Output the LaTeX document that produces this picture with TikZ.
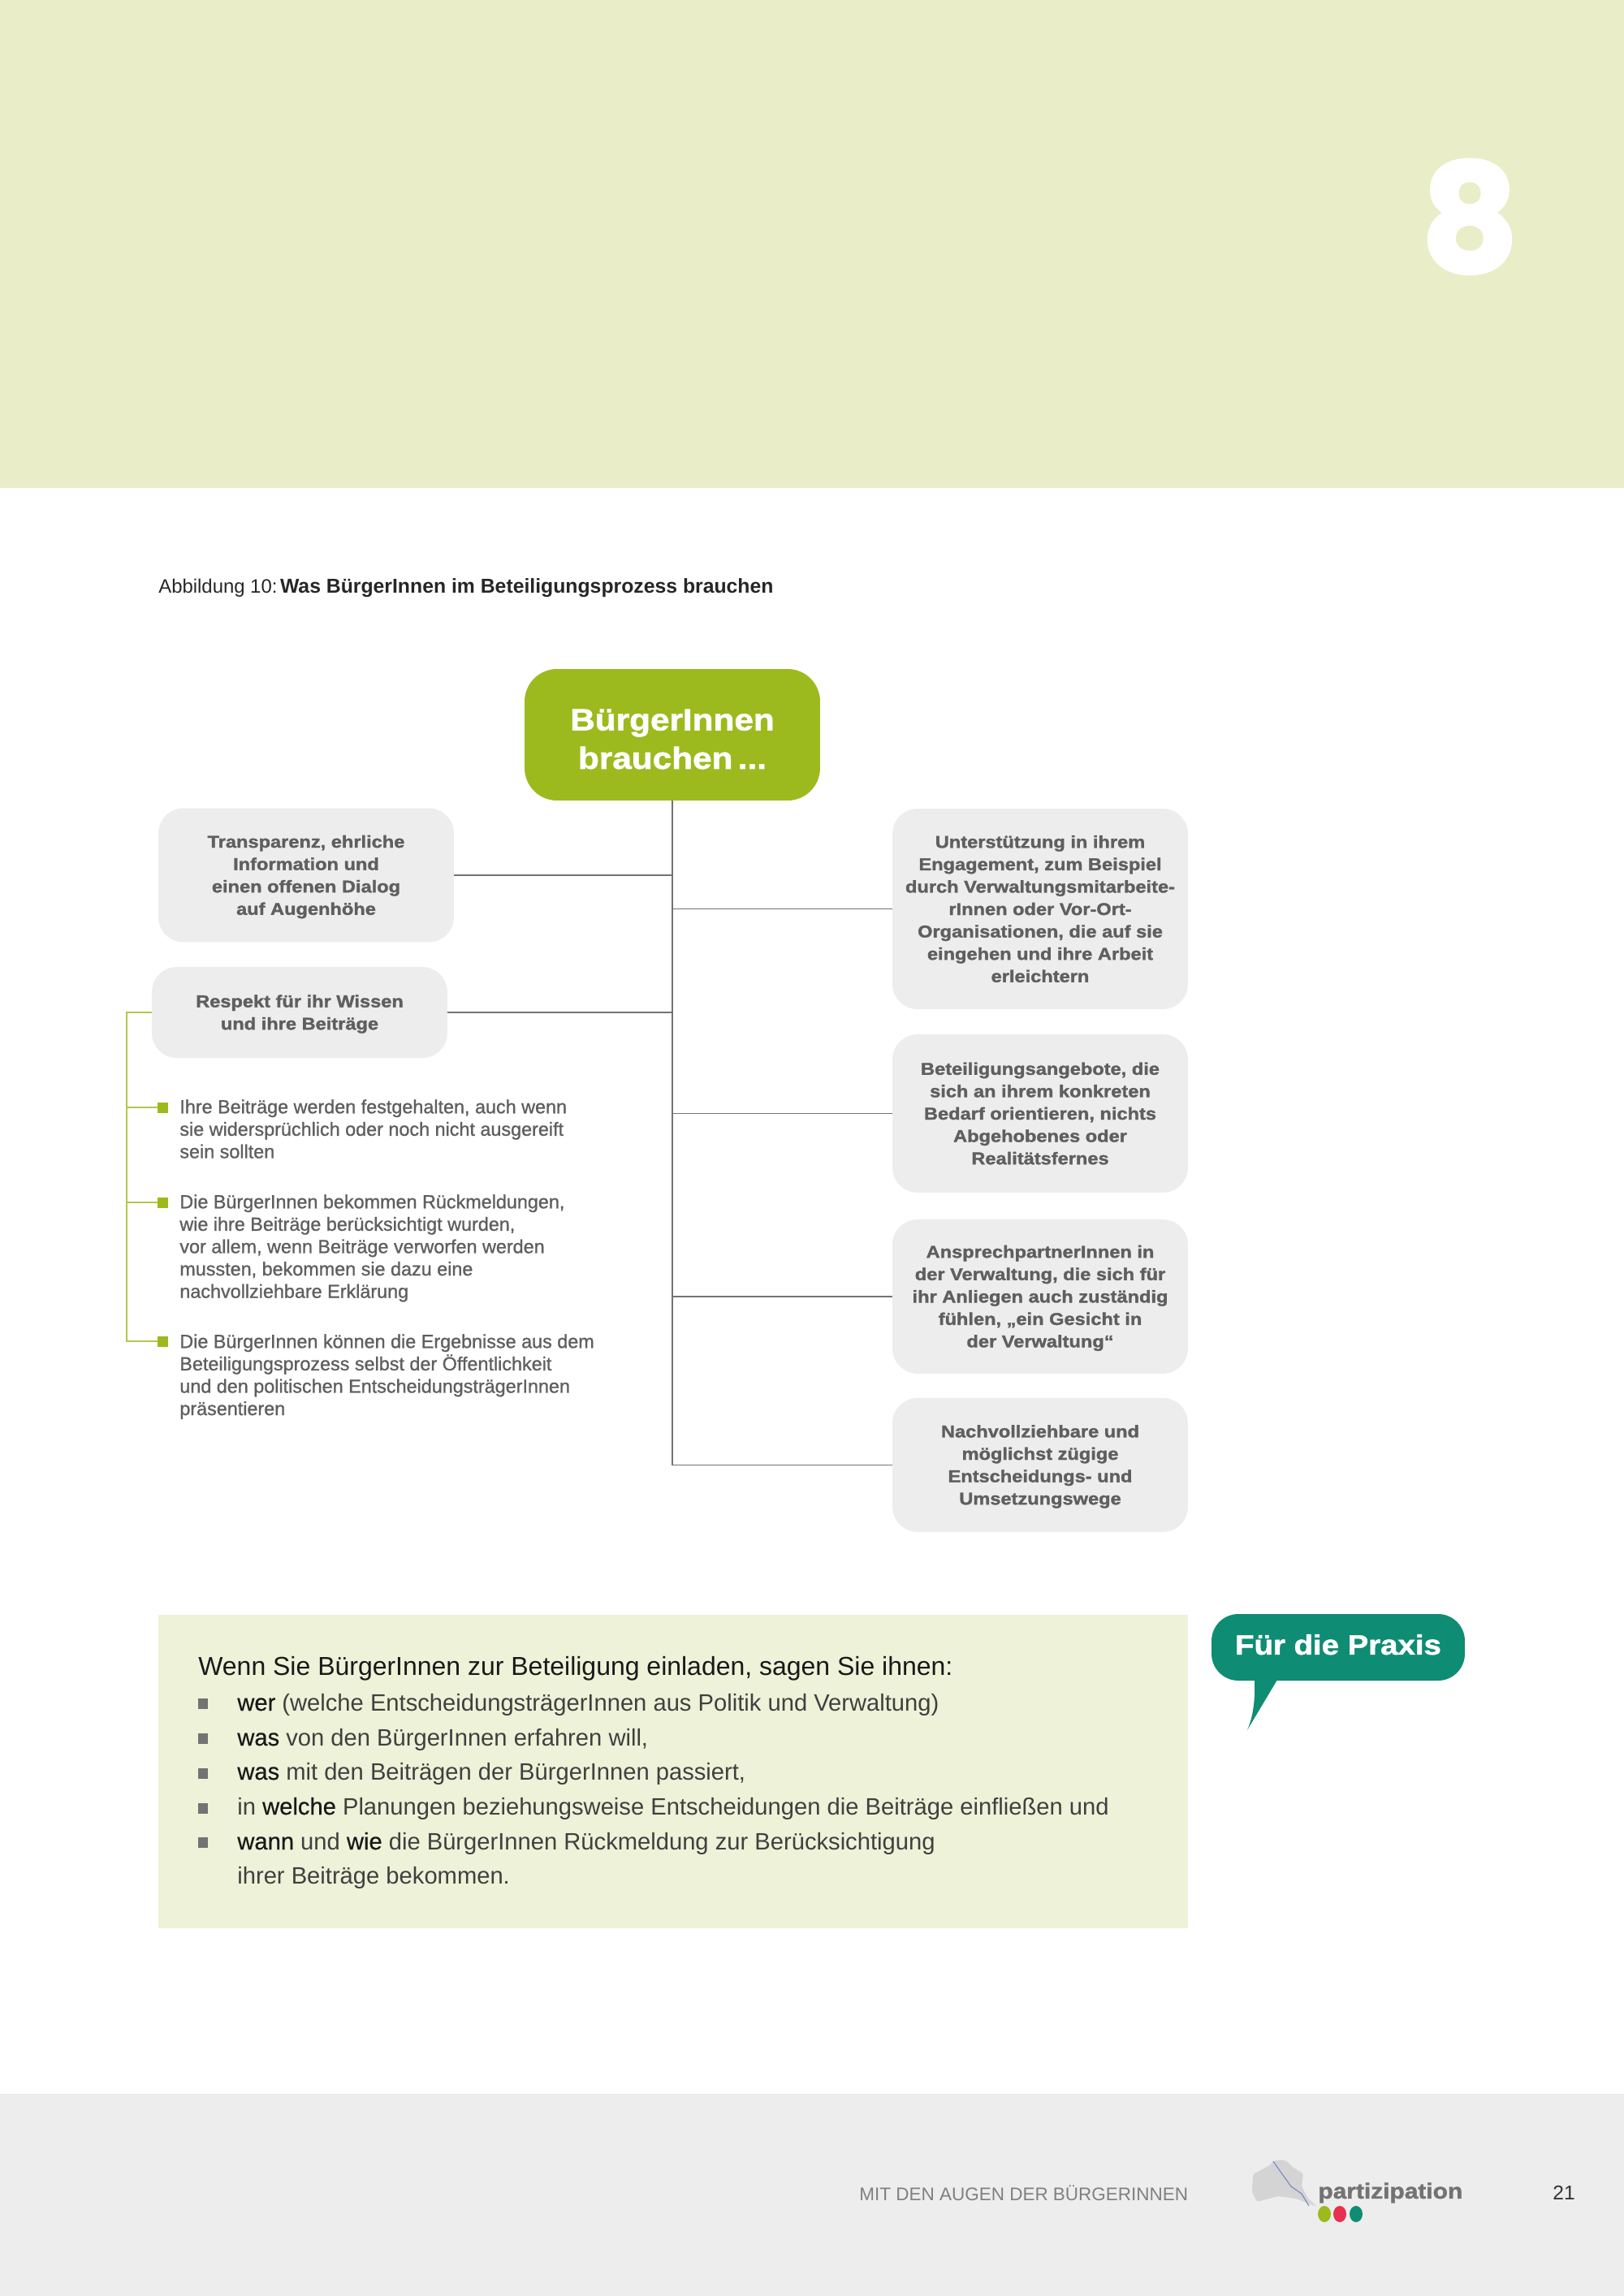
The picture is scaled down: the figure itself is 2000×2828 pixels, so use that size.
\documentclass[tikz,border=0pt]{standalone}
\usepackage{xcolor}
\usepackage{fontspec}
\usepackage{tikz}
\usetikzlibrary{positioning}
\setmainfont{Liberation Sans}
\newfontfamily\boxfont[FakeStretch=1.12,FakeBold=1.5]{Liberation Sans Bold}
\newfontfamily\medfont[FakeBold=0.5]{Liberation Sans}
\newfontfamily\subfont[FakeBold=1]{Liberation Sans}
\newfontfamily\chapfont[FakeBold=2.5]{Poppins Bold}
\newcommand{\keyword}[1]{{\medfont\color{black!90}#1}}
\newcommand{\lift}[1]{\rule{0pt}{#1}}
\definecolor{bandgreen}{HTML}{E9EEC8}
\definecolor{palegreen}{HTML}{EEF2D8}
\definecolor{lime}{HTML}{9CBA1E}
\definecolor{boxgrey}{HTML}{EDEDED}
\definecolor{boxtext}{HTML}{5F5F5F}
\definecolor{teal}{HTML}{0F8C74}
\definecolor{dotred}{HTML}{E8304F}
\definecolor{logoblue}{HTML}{6F86C0}
\tikzset{
  needbox/.style={fill=boxgrey, rounded corners=0.62cm, minimum width=7.28cm, align=center, inner sep=0pt, outer sep=0pt, text=boxtext, font=\boxfont\fontsize{12}{15.7}\selectfont},
  branch/.style={draw=black!55, line width=0.7pt},
  limeline/.style={draw=lime!80, line width=0.7pt},
  limebullet/.style={fill=lime, minimum size=0.26cm, inner sep=0pt, outer sep=0pt},
  greybullet/.style={fill=black!55, minimum width=0.25cm, minimum height=0.26cm, inner sep=0pt, outer sep=0pt},
  subtext/.style={anchor=north west, align=left, inner sep=0pt, text=boxtext, font=\subfont\fontsize{13.3}{15.7}\selectfont},
  listline/.style={anchor=base west, inner sep=0pt, text=black!75, font=\fontsize{16.6}{24}\selectfont}
}
\begin{document}
\begin{tikzpicture}[x=0.02cm, y=-0.02cm]
  \useasboundingbox (0,0) rectangle (2000,2828);
  \fill[white] (0,0) rectangle (2000,2828);
  \fill[bandgreen] (0,0) rectangle (2000,601);
  \fill[palegreen] (195,1989) rectangle (1463,2375);
  \fill[boxgrey] (0,2579) rectangle (2000,2828);
  \node[text=white, font=\chapfont\fontsize{105}{105}\selectfont, inner sep=0pt] (chapter) at (1810,267) {8};
  \node[anchor=base west, inner sep=0pt, font=\fontsize{13.6}{18}\selectfont, text=black!85] (caption) at (195,730) {Abbildung 10:\hspace{2pt}{\bfseries\fontsize{14.1}{18}\selectfont Was BürgerInnen im Beteiligungsprozess brauchen}};

  \node[fill=lime, rounded corners=0.8cm, minimum width=7.28cm, minimum height=3.24cm, align=center, inner sep=0pt, outer sep=0pt, text=white, font=\boxfont\fontsize{21.5}{27}\selectfont] (main) at (828,905) {\lift{21pt}BürgerInnen\\brauchen\,...};

  \node[needbox, minimum height=3.3cm] (transp) at (377,1078) {\lift{11pt}Transparenz, ehrliche\\Information und\\einen offenen Dialog\\auf Augenhöhe};
  \node[needbox, minimum height=2.24cm] (respekt) at (369,1247) {\lift{11pt}Respekt für ihr Wissen\\und ihre Beiträge};
  \node[needbox, minimum height=4.94cm] (support) at (1281,1119.5) {Unterstützung in ihrem\\Engagement, zum Beispiel\\durch Verwaltungsmitarbeite-\\rInnen oder Vor-Ort-\\Organisationen, die auf sie\\eingehen und ihre Arbeit\\erleichtern};
  \node[needbox, minimum height=3.9cm, below=0.62cm of support] (angebote) {Beteiligungsangebote, die\\sich an ihrem konkreten\\Bedarf orientieren, nichts\\Abgehobenes oder\\Realitätsfernes};
  \node[needbox, minimum height=3.8cm, below=0.66cm of angebote] (partner) {\lift{11pt}AnsprechpartnerInnen in\\der Verwaltung, die sich für\\ihr Anliegen auch zuständig\\fühlen, „ein Gesicht in\\der Verwaltung“};
  \node[needbox, minimum height=3.3cm, below=0.6cm of partner] (wege) {\lift{11pt}Nachvollziehbare und\\möglichst zügige\\Entscheidungs- und\\Umsetzungswege};

  \draw[branch] (main.south) |- (wege.west);
  \draw[branch] (transp.east) -- (transp.east -| main.south);
  \draw[branch] (respekt.east) -- (respekt.east -| main.south);
  \draw[branch] (support.west) -- (support.west -| main.south);
  \draw[branch] (angebote.west) -- (angebote.west -| main.south);
  \draw[branch] (partner.west) -- (partner.west -| main.south);

  \node[limebullet] (festA) at (200,1364) {};
  \node[limebullet] (festB) at (200,1481) {};
  \node[limebullet] (festC) at (200,1652) {};
  \coordinate (bracket) at (156,1247);
  \draw[limeline] (respekt.west) -- (bracket) |- (festA.west);
  \draw[limeline] (bracket) |- (festB.west);
  \draw[limeline] (bracket) |- (festC.west);
  \node[subtext] (textA) at (221,1354) {Ihre Beiträge werden festgehalten, auch wenn\\sie widersprüchlich oder noch nicht ausgereift\\sein sollten};
  \node[subtext] (textB) at (221,1471) {Die BürgerInnen bekommen Rückmeldungen,\\wie ihre Beiträge berücksichtigt wurden,\\vor allem, wenn Beiträge verworfen werden\\mussten, bekommen sie dazu eine\\nachvollziehbare Erklärung};
  \node[subtext] (textC) at (221,1643) {Die BürgerInnen können die Ergebnisse aus dem\\Beteiligungsprozess selbst der Öffentlichkeit\\und den politischen EntscheidungsträgerInnen\\präsentieren};

  \node[listline, text=black!90, font=\fontsize{18.2}{24}\selectfont] (intro) at (244,2063) {Wenn Sie BürgerInnen zur Beteiligung einladen, sagen Sie ihnen:};
  \foreach \ypos in {2098,2141,2184,2227,2269}
    \node[greybullet] at (250,\ypos) {};
  \node[listline] (wer) at (292,2107) {\keyword{wer} (welche EntscheidungsträgerInnen aus Politik und Verwaltung)};
  \node[listline] (wasA) at (292,2150) {\keyword{was} von den BürgerInnen erfahren will,};
  \node[listline] (wasB) at (292,2192) {\keyword{was} mit den Beiträgen der BürgerInnen passiert,};
  \node[listline] (welche) at (292,2235) {in \keyword{welche} Planungen beziehungsweise Entscheidungen die Beiträge einfließen und};
  \node[listline] (wann) at (292,2278) {\keyword{wann} und \keyword{wie} die BürgerInnen Rückmeldung zur Berücksichtigung};
  \node[listline] (ihrer) at (292,2320) {ihrer Beiträge bekommen.};

  \node[fill=teal, rounded corners=0.66cm, minimum width=6.24cm, minimum height=1.64cm, inner sep=0pt, outer sep=0pt, text=white, text depth=4pt, font=\boxfont\fontsize{19.5}{22}\selectfont] (praxis) at (1648,2029) {Für die Praxis};
  \fill[teal] (1545,2069) .. controls (1546,2095) and (1543,2115) .. (1536,2131) -- (1573,2069) -- cycle;

  \node[anchor=west, inner sep=0pt, text=black!50, font=\fontsize{12.8}{16}\selectfont] (running) at (1058,2701) {MIT DEN AUGEN DER BÜRGERINNEN};
  \fill[black!17, rounded corners=1.5pt] (1568,2662) -- (1577,2660) -- (1585,2662) -- (1593,2670) -- (1605,2677) -- (1603,2693) -- (1611,2708) -- (1622,2718) -- (1596,2708) -- (1574,2705) -- (1548,2712) -- (1542,2700) -- (1543,2678) -- (1564,2667) -- cycle;
  \draw[logoblue, line width=0.6pt] (1568,2662) -- (1577,2675) -- (1590,2693) -- (1603,2702) -- (1612,2717);
  \node[anchor=west, inner sep=0pt, text=black!55, font=\boxfont\fontsize{15.2}{18}\selectfont] (logotext) at (1623,2701) {partizipation};
  \fill[lime] (1631,2727) ellipse (8 and 10);
  \fill[dotred] (1650,2727) ellipse (8 and 10);
  \fill[teal] (1670,2727) ellipse (8 and 10);
  \node[inner sep=0pt, text=black!80, font=\fontsize{14}{16}\selectfont] (pagenum) at (1926,2701) {21};
\end{tikzpicture}
\end{document}
